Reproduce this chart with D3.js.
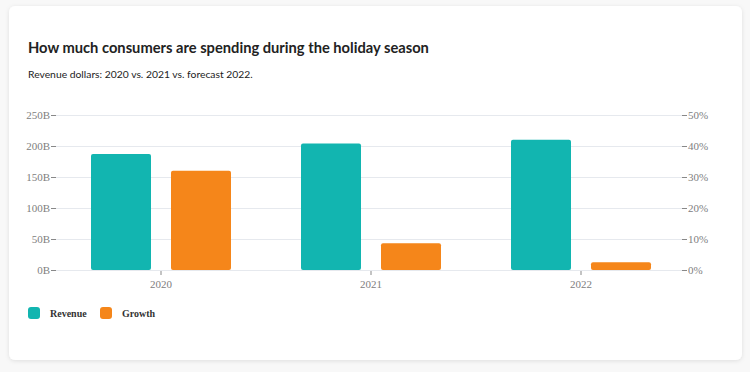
<!DOCTYPE html>
<html><head><meta charset="utf-8">
<script src="https://cdn.jsdelivr.net/npm/d3@7"></script>
<style>
html,body{margin:0;padding:0;background:#f5f5f5;}
body{width:750px;height:372px;overflow:hidden;}
</style></head>
<body>
<svg id="chart" width="750" height="372"></svg>
<script>
const categories = ["2020", "2021", "2022"];
const revenue = [187, 204, 210];       // billions of dollars
const growth = [32, 8.6, 2.5];         // percent
const revenueTicks = [0, 50, 100, 150, 200, 250];
const growthTicks = [0, 10, 20, 30, 40, 50];
const seriesNames = ["Revenue", "Growth"];
const colors = ["#12b5b0", "#f5861a"];

const svg = d3.select("#chart");
const defs = svg.append("defs");
const f = defs.append("filter").attr("id","sh").attr("x","-5%").attr("y","-5%").attr("width","110%").attr("height","115%");
f.append("feDropShadow").attr("dx",0).attr("dy",1).attr("stdDeviation",2).attr("flood-color","#000").attr("flood-opacity",0.1);

svg.append("rect").attr("x",0).attr("y",0).attr("width",750).attr("height",372).attr("fill","#f8f8f8");
svg.append("rect").attr("x",9).attr("y",6).attr("width",733).attr("height",354).attr("rx",6)
  .attr("fill","#fff").attr("filter","url(#sh)");

function fitText(sel, target){
  const w = sel.node().getComputedTextLength();
  const fs = parseFloat(sel.attr("font-size"));
  sel.attr("font-size", fs*target/w);
}

const title = svg.append("text").attr("x",28).attr("y",53)
  .attr("font-family","Lato, 'Open Sans', sans-serif").attr("font-weight","bold")
  .attr("font-size",15).attr("fill","#222")
  .text("How much consumers are spending during the holiday season");
fitText(title, 401);
const sub = svg.append("text").attr("x",28).attr("y",78)
  .attr("font-family","Lato, 'Open Sans', sans-serif")
  .attr("font-size",11).attr("fill","#222")
  .text("Revenue dollars: 2020 vs. 2021 vs. forecast 2022.");
fitText(sub, 225);

const x = d3.scaleBand().domain(categories).range([56, 686]);
const yL = d3.scaleLinear().domain([0, 250]).range([270, 115]);
const yR = d3.scaleLinear().domain([0, 50]).range([270, 115]);

const tickFont = "'Liberation Serif', 'Times New Roman', serif";

// grid
svg.append("g").selectAll("line").data(revenueTicks).join("line")
  .attr("x1",56).attr("x2",682).attr("y1",d=>yL(d)+0.5).attr("y2",d=>yL(d)+0.5)
  .attr("stroke","#e6e9ee").attr("stroke-width",1);

// left axis
const gL = svg.append("g").attr("transform","translate(56,0)")
  .call(d3.axisLeft(yL).tickValues(revenueTicks).tickSize(5).tickPadding(1).tickFormat(d=>d+"B"));
gL.select(".domain").remove();
gL.selectAll(".tick line").attr("stroke","#888");
gL.selectAll("text").attr("font-family",tickFont).attr("font-size",11).attr("fill","#808080");

// right axis
const gR = svg.append("g").attr("transform","translate(682,0)")
  .call(d3.axisRight(yR).tickValues(growthTicks).tickSize(5).tickPadding(1).tickFormat(d=>d+"%"));
gR.select(".domain").remove();
gR.selectAll(".tick line").attr("stroke","#888");
gR.selectAll("text").attr("font-family",tickFont).attr("font-size",11).attr("fill","#808080");

// bottom axis
const gB = svg.append("g").attr("transform","translate(0,271)")
  .call(d3.axisBottom(x).tickSize(4).tickPadding(5));
gB.select(".domain").remove();
gB.selectAll(".tick line").attr("stroke","#888");
gB.selectAll("text").attr("font-family",tickFont).attr("font-size",11).attr("fill","#808080");

// bars
const c = d => x(d) + x.bandwidth()/2;
svg.append("g").selectAll("rect").data(categories).join("rect")
  .attr("x",(d)=>c(d)-70).attr("width",60)
  .attr("y",(d,i)=>yL(revenue[i])).attr("height",(d,i)=>yL(0)-yL(revenue[i]))
  .attr("rx",2).attr("fill",colors[0]);
svg.append("g").selectAll("rect").data(categories).join("rect")
  .attr("x",(d)=>c(d)+10).attr("width",60)
  .attr("y",(d,i)=>yR(growth[i])).attr("height",(d,i)=>yR(0)-yR(growth[i]))
  .attr("rx",2).attr("fill",colors[1]);

// legend
const legX = [28, 100];
const lg = svg.append("g").selectAll("g").data(seriesNames).join("g")
  .attr("transform",(d,i)=>`translate(${legX[i]},307)`);
lg.append("rect").attr("width",12).attr("height",12).attr("rx",3).attr("fill",(d,i)=>colors[i]);
lg.append("text").attr("x",22).attr("y",10).attr("font-family",tickFont).attr("font-weight","bold")
  .attr("font-size",10).attr("fill","#333").text(d=>d);
</script>
</body></html>
